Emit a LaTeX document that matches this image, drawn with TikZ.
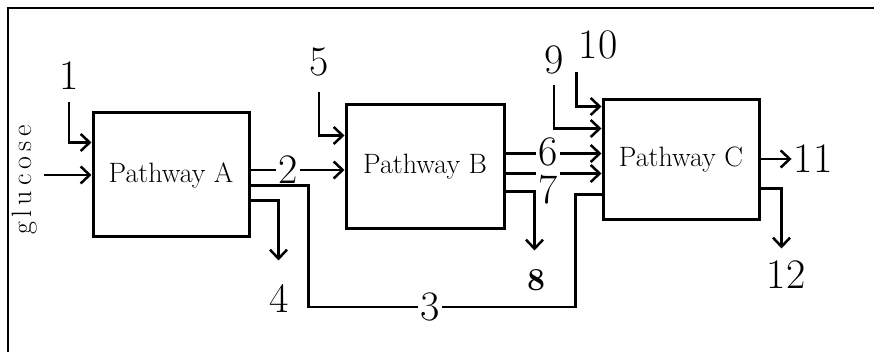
\documentclass[tikz,border=0pt]{standalone}
\usepackage{fontspec}
\usetikzlibrary{arrows.meta,calc}
\newcommand{\heavy}{\addfontfeature{FakeBold=2.5}}
\begin{document}
\begin{tikzpicture}[x=1pt,y=-1pt,
  conn/.style={line width=2.5pt},
  arr/.style={conn,-{Straight Barb[length=9pt,width=17pt]}},
  pbox/.style={draw,line width=3pt,minimum width=156pt,minimum height=124pt,inner sep=0pt,font=\fontsize{28}{28}\selectfont\heavy},
  num/.style={inner sep=2pt,font=\fontsize{42}{42}\selectfont\heavy}]
\useasboundingbox (0,0) rectangle (874,352);
\draw[line width=2.4pt] (8,352) -- (8,8) -- (874,8);
% boxes
\node[pbox] (A) at (171,175) {Pathway A};
\node[pbox,minimum width=158pt] (B) at (425,167) {Pathway B};
\node[pbox,minimum height=120pt] (C) at (681,160) {Pathway C};
% glucose
\node[rotate=90,inner sep=0pt,font=\fontsize{28}{28}\selectfont\heavy] (glu) at (25,180) {g\kern5pt l\kern5pt u\kern5pt c\kern5pt o\kern5pt s\kern5pt e};
% labels
\node[num] (l1) at (69,76) {1};
\node[num] (l2) at (288,170) {2};
\node[num] (l3) at (430,307) {3};
\node[num] (l4) at (279,298) {4};
\node[num] (l5) at (319,62) {5};
\node[num] (l6) at (548,152) {6};
\node[num] (l7) at (548,190) {7};
\node[num,font=\fontsize{32}{32}\selectfont\bfseries] (l8) at (536,280) {8};
\node[num] (l9) at (554,60) {9};
\node[num] (l10) at (598,45) {10};
\node[num] (l11) at (813,159) {11};
\node[num] (l12) at (786,275) {12};
% anchor points on boxes
\coordinate (A1) at ($(A.north west)+(0,31)$);
\coordinate (A3) at ($(A.north east)+(0,74)$);
\coordinate (A4) at ($(A.north east)+(0,89)$);
\coordinate (B5) at ($(B.north west)+(0,32)$);
\coordinate (B6) at ($(B.north east)+(0,50)$);
\coordinate (B7) at ($(B.north east)+(0,70)$);
\coordinate (B8) at ($(B.north east)+(0,88)$);
\coordinate (C10) at ($(C.north west)+(0,8)$);
\coordinate (C9) at ($(C.north west)+(0,30)$);
\coordinate (C3) at ($(C.north west)+(0,96)$);
\coordinate (C12) at ($(C.north east)+(0,90)$);
% connectors into A
\draw[arr,shorten <=6pt] (glu.south |- A.west) -- (A.west);
\draw[arr,shorten <=10pt] (l1.south) |- (A1);
% 2
\draw[conn] (A.east |- l2) -- (l2.west);
\draw[arr] (l2.east) -- (B.west |- l2);
% 3
\draw[conn] (A3) -- ++(58,0) |- (l3.west);
\draw[conn] (l3.east) -| ($(C3)+(-26,0)$) -- (C3);
% 4
\draw[arr] (A4) -- ++(28,0) -- ++(0,60);
% 5
\draw[arr,shorten <=14pt] (l5.south) |- (B5);
% 6, 7
\draw[conn] (B6) -- (l6.west |- B6);
\draw[arr] (l6.east |- B6) -- (C.west |- B6);
\draw[conn] (B7) -- (l7.west |- B7);
\draw[arr] (l7.east |- B7) -- (C.west |- B7);
% 8
\draw[arr] (B8) -- ++(29,0) -- ++(0,59);
% 9, 10
\draw[arr,shorten <=9pt] (l9.south) |- (C9);
\draw[arr,shorten <=11pt] (l10.south west) |- (C10);
% 11, 12
\draw[arr] (C.east |- l11) -- (l11.west);
\draw[arr] (C12) -- ++(21,0) -- ++(0,60);
\end{tikzpicture}
\end{document}
